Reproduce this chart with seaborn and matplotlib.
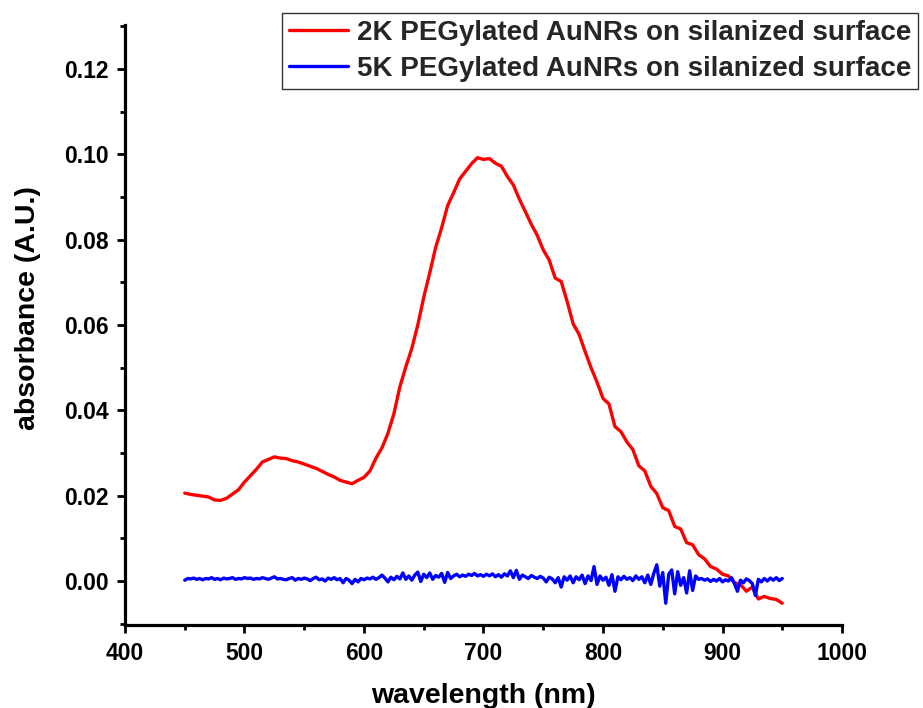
import numpy as np
import pandas as pd
import matplotlib
matplotlib.use("Agg")
import matplotlib.pyplot as plt
import seaborn as sns
from matplotlib.ticker import MultipleLocator

# ---------------- data ----------------
series_names = ["2K PEGylated AuNRs on silanized surface",
                "5K PEGylated AuNRs on silanized surface"]
series_colors = ["#FF0000", "#0000FF"]

# red series: 450..950 nm every 5 nm
wl_red = np.arange(450, 950.1, 5.0)
abs_2k = (
    [0.0206, 0.0203, 0.0201, 0.0199, 0.0197, 0.0190, 0.0189, 0.0194, 0.0204, 0.0214] +
    [0.0232, 0.0247, 0.0262, 0.0279, 0.0285, 0.0291, 0.0288, 0.0287, 0.0282, 0.0279] +
    [0.0274, 0.0269, 0.0264, 0.0257, 0.0250, 0.0244, 0.0236, 0.0232, 0.0228, 0.0236] +
    [0.0243, 0.0258, 0.0288, 0.0312, 0.0346, 0.0392, 0.0455, 0.0502, 0.0545, 0.0600] +
    [0.0665, 0.0722, 0.0782, 0.0828, 0.0880, 0.0910, 0.0942, 0.0960, 0.0978, 0.0992] +
    [0.0988, 0.0990, 0.0979, 0.0972, 0.0948, 0.0928, 0.0895, 0.0866, 0.0836, 0.0810] +
    [0.0776, 0.0752, 0.0710, 0.0702, 0.0655, 0.0603, 0.0578, 0.0538, 0.0500, 0.0466] +
    [0.0428, 0.0415, 0.0362, 0.0350, 0.0326, 0.0308, 0.0270, 0.0258, 0.0222, 0.0205] +
    [0.0172, 0.0165, 0.0128, 0.0122, 0.0090, 0.0085, 0.0062, 0.0052, 0.0034, 0.0028] +
    [0.0016, 0.0012, -0.0004, -0.0008, -0.0024, -0.0014, -0.0042, -0.0036, -0.0041, -0.0043] +
    [-0.0052]
)

# blue series: 450..950 nm every 2.5 nm
wl_blue = np.arange(450, 950.1, 2.5)
abs_5k = (
    [0.0002, 0.0006, 0.0005, 0.0007, 0.0004, 0.0006, 0.0003, 0.0006, 0.0005, 0.0008,
     0.0004, 0.0006, 0.0003, 0.0007, 0.0005, 0.0006, 0.0008, 0.0004, 0.0006, 0.0005] +
    [0.0008, 0.0006, 0.0007, 0.0004, 0.0006, 0.0005, 0.0008, 0.0006, 0.0004, 0.0007,
     0.0010, 0.0005, 0.0006, 0.0004, 0.0003, 0.0006, 0.0008, 0.0002, 0.0006, 0.0004] +
    [0.0007, 0.0005, 0.0001, 0.0006, 0.0009, 0.0003, 0.0005, 0.0000, 0.0007, 0.0004,
     0.0008, 0.0003, 0.0006, -0.0004, 0.0006, 0.0002, -0.0006, 0.0004, -0.0002, 0.0006] +
    [0.0003, 0.0007, 0.0005, 0.0009, 0.0004, 0.0008, 0.0014, 0.0007, -0.0002, 0.0009,
     0.0003, 0.0011, 0.0005, 0.0019, 0.0004, 0.0012, 0.0002, 0.0014, 0.0021, -0.0001] +
    [0.0016, 0.0008, 0.0019, 0.0004, 0.0013, 0.0009, 0.0018, -0.0003, 0.0020, 0.0006,
     0.0012, 0.0016, 0.0010, 0.0014, 0.0011, 0.0016, 0.0013, 0.0018, 0.0012, 0.0015] +
    [0.0011, 0.0016, 0.0012, 0.0017, 0.0010, 0.0015, 0.0009, 0.0017, 0.0012, 0.0024,
     0.0008, 0.0025, 0.0004, 0.0014, 0.0010, 0.0006, 0.0013, 0.0009, 0.0006, 0.0011] +
    [0.0007, -0.0002, 0.0009, 0.0005, -0.0004, 0.0008, -0.0014, 0.0010, 0.0002, 0.0012,
     -0.0004, 0.0010, 0.0003, 0.0014, -0.0006, 0.0012, 0.0001, 0.0034, -0.0008, 0.0012] +
    [0.0002, 0.0009, -0.0010, 0.0015, -0.0024, 0.0010, 0.0003, 0.0011, 0.0004, 0.0008,
     0.0001, 0.0012, 0.0004, 0.0010, -0.0004, 0.0014, -0.0008, 0.0018, 0.0038, -0.0012] +
    [0.0020, -0.0052, 0.0016, 0.0026, -0.0030, 0.0022, -0.0010, 0.0008, -0.0028, 0.0024,
     -0.0022, 0.0012, 0.0004, 0.0006, 0.0002, 0.0005, -0.0001, 0.0004, 0.0000, 0.0006] +
    [-0.0002, 0.0003, 0.0000, 0.0008, -0.0006, -0.0024, 0.0002, -0.0004, 0.0005, 0.0001,
     -0.0006, -0.0034, 0.0004, -0.0002, 0.0006, 0.0000, 0.0007, 0.0002, 0.0008, 0.0001] +
    [0.0006]
)

x_ticks = [400, 500, 600, 700, 800, 900, 1000]
y_ticks = [0.00, 0.02, 0.04, 0.06, 0.08, 0.10, 0.12]

df = pd.concat([
    pd.DataFrame({"wavelength": wl_red, "absorbance": abs_2k, "sample": series_names[0]}),
    pd.DataFrame({"wavelength": wl_blue, "absorbance": abs_5k, "sample": series_names[1]}),
], ignore_index=True)

# ---------------- style ----------------
sns.set_theme(style="ticks")
plt.rcParams["font.family"] = ["Liberation Sans", "DejaVu Sans"]
plt.rcParams["font.weight"] = "bold"
plt.rcParams["axes.labelweight"] = "bold"

fig = plt.figure(figsize=(9.23, 7.08), dpi=100)
ax = fig.add_axes([125 / 923, 1 - 625 / 708, (842 - 125) / 923, (625 - 25) / 708])

sns.lineplot(data=df, x="wavelength", y="absorbance", hue="sample",
             palette=dict(zip(series_names, series_colors)),
             linewidth=2.4, ax=ax, sort=False, estimator=None)

ax.set_xlim(400, 1000)
ax.set_ylim(-0.0103, 0.1303)
ax.set_xticks(x_ticks)
ax.set_yticks(y_ticks)
ax.set_xticklabels([str(v) for v in x_ticks])
ax.set_yticklabels([f"{v:.2f}" for v in y_ticks])
ax.xaxis.set_minor_locator(MultipleLocator(50))
ax.yaxis.set_minor_locator(MultipleLocator(0.01))

for side in ["top", "right"]:
    ax.spines[side].set_visible(False)
for side in ["left", "bottom"]:
    ax.spines[side].set_linewidth(2.3)
    ax.spines[side].set_color("black")

ax.tick_params(axis="both", which="major", length=6, width=2.0, direction="out",
               labelsize=16.5, pad=6, color="black", labelcolor="black")
ax.tick_params(axis="both", which="minor", length=3.5, width=2.0, direction="out",
               color="black")
for lbl in ax.get_xticklabels() + ax.get_yticklabels():
    lbl.set_fontweight("bold")

ax.set_xlabel("wavelength (nm)", fontsize=20.5, fontweight="bold", labelpad=13, color="black")
ax.set_ylabel("absorbance (A.U.)", fontsize=20.5, fontweight="bold", color="black")
ax.yaxis.set_label_coords(-0.117, 0.5275)

handles, labels = ax.get_legend_handles_labels()
leg = ax.legend(handles, labels, loc="upper right",
                bbox_to_anchor=(918 / 923, 1 - 13 / 708), bbox_transform=fig.transFigure,
                borderaxespad=0, fancybox=False, frameon=True, framealpha=1,
                edgecolor="#333333", prop={"weight": "bold", "size": 20},
                handlelength=2.15, handletextpad=0.3, borderpad=0.25, labelspacing=0.36)
leg.get_frame().set_linewidth(1.0)
for line in leg.get_lines():
    line.set_linewidth(2.4)

fig.savefig("out.png", dpi=100)
